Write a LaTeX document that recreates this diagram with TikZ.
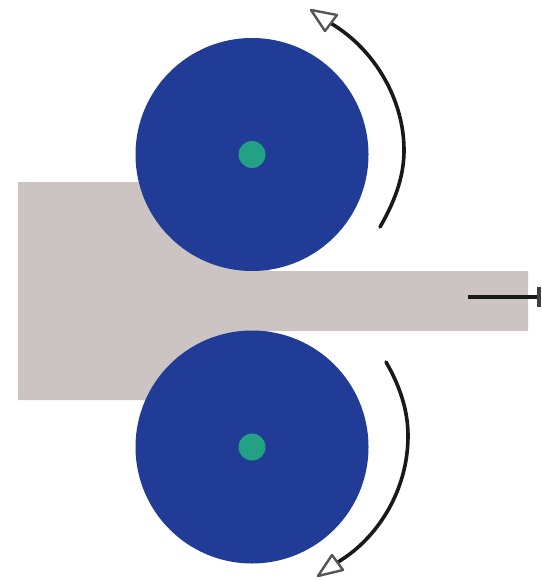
\documentclass[tikz,border=0pt]{standalone}
\definecolor{roll}{HTML}{203C96}
\definecolor{hub}{HTML}{23A184}
\definecolor{slab}{HTML}{CCC4C2}
\definecolor{tipgray}{HTML}{555555}
\tikzset{
  roller/.style={circle,fill=roll,draw=none,minimum size=233pt,inner sep=0pt},
  axle/.style={circle,fill=hub,draw=none,minimum size=27pt,inner sep=0pt},
  turn/.style={line width=3.6pt,draw=black!90,line cap=round},
  tiphead/.style={draw=tipgray,line width=2.4pt,fill=white,line join=round},
}
\begin{document}
\begin{tikzpicture}[x=1pt,y=-1pt]
\useasboundingbox (0,0) rectangle (541,580);
\clip (0,0) rectangle (541,580);
\fill[slab] (18,182) -- (160,182) -- (270,271) -- (528,271) -- (528,331) -- (270,331) -- (160,400) -- (18,400) -- cycle;
\node[roller] (top) at (252,154.5) {};
\node[roller] (bot) at (252,447) {};
\node[axle] (tophub) at (252,154.5) {};
\node[axle] (bothub) at (252,447) {};
% top rotation arrow
\coordinate (a1) at (380,227);
\coordinate (a2) at (332,24);
\draw[turn] (a1) .. controls (398,196) and (404,172) .. (404,150) .. controls (404,100) and (375,50) .. (a2);
\coordinate (t1) at (311,10);
\coordinate (t2) at (337,15);
\coordinate (t3) at (325,31);
\draw[tiphead] (t1) -- (t2) -- (t3) -- cycle;
% bottom rotation arrow
\coordinate (b1) at (386,362);
\coordinate (b2) at (338,562);
\draw[turn] (b1) .. controls (401,388) and (408,412) .. (408,436) .. controls (408,490) and (378,538) .. (b2);
\coordinate (u1) at (318,576);
\coordinate (u2) at (332,555);
\coordinate (u3) at (343,570);
\draw[tiphead] (u1) -- (u2) -- (u3) -- cycle;
% dimension mark
\coordinate (d1) at (468,297);
\coordinate (d2) at (541,297);
\coordinate (d3) at (539,287);
\coordinate (d4) at (539,307);
\draw[line width=3.4pt,black!90] (d1) -- (d2);
\draw[line width=4pt,black!75] (d3) -- (d4);
\end{tikzpicture}
\end{document}
